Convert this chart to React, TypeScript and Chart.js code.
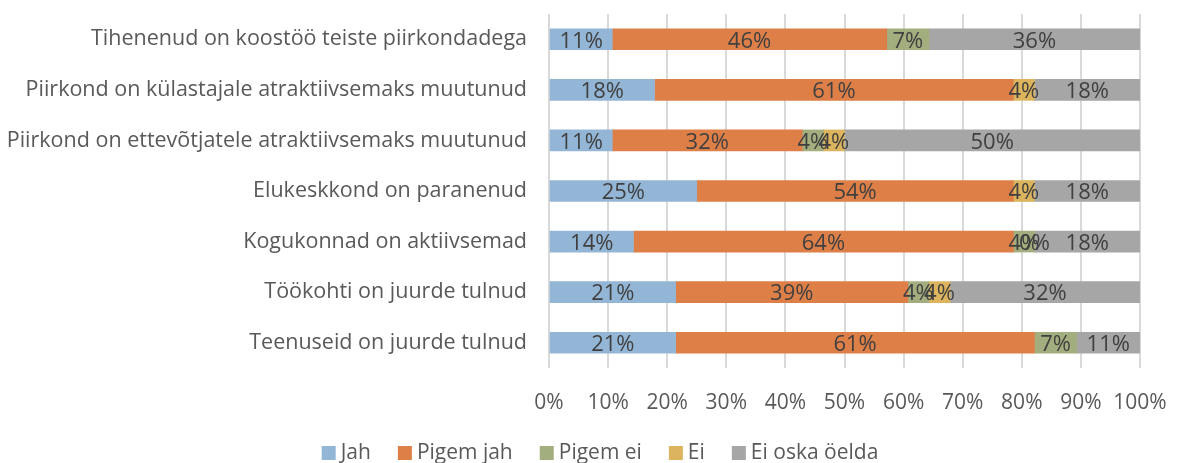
import React, { useEffect, useRef } from "react";
import { Chart, registerables } from "chart.js";

Chart.register(...registerables);

const categories = [
  "Tihenenud on koostöö teiste piirkondadega",
  "Piirkond on külastajale atraktiivsemaks muutunud",
  "Piirkond on ettevõtjatele atraktiivsemaks muutunud",
  "Elukeskkond on paranenud",
  "Kogukonnad on aktiivsemad",
  "Töökohti on juurde tulnud",
  "Teenuseid on juurde tulnud",
];
const seriesNames = ["Jah", "Pigem jah", "Pigem ei", "Ei", "Ei oska öelda"];
const jah = [10.71, 17.86, 10.71, 25, 14.29, 21.43, 21.43];
const pigemJah = [46.43, 60.71, 32.14, 53.57, 64.29, 39.29, 60.71];
const pigemEi = [7.14, null, 3.57, null, 3.57, 3.57, 7.14];
const ei = [null, 3.57, 3.57, 3.57, 0, 3.57, null];
const eiOska = [35.71, 17.86, 50, 17.86, 17.86, 32.14, 10.71];
const xTicks = [0, 10, 20, 30, 40, 50, 60, 70, 80, 90, 100];

const colors = ["#94B6D6", "#DF7F48", "#A3AE7E", "#DCB45E", "#A6A6A6"];
const FONT = "'Open Sans', sans-serif";

const labelPlugin = {
  id: "segLabels",
  afterDatasetsDraw(chart: any) {
    const ctx = chart.ctx;
    ctx.save();
    ctx.font = `22px ${FONT}`;
    ctx.fillStyle = "#404040";
    ctx.textAlign = "center";
    ctx.textBaseline = "middle";
    chart.data.datasets.forEach((ds: any, di: number) => {
      const meta = chart.getDatasetMeta(di);
      meta.data.forEach((el: any, i: number) => {
        const v = ds.data[i];
        if (v === null || v === undefined) return;
        const p = el.getProps(["x", "y", "base"], true);
        ctx.fillText(Math.round(v) + "%", (p.x + p.base) / 2, p.y + 2);
      });
    });
    ctx.restore();
  },
};

const legendPlugin = {
  id: "customLegend",
  afterDraw(chart: any) {
    const ctx = chart.ctx;
    ctx.save();
    ctx.font = `21px ${FONT}`;
    ctx.textBaseline = "middle";
    ctx.textAlign = "left";
    const box = 14;
    const gapBox = 5;
    const gapItem = 27;
    const widths = seriesNames.map((n) => ctx.measureText(n).width);
    const total =
      widths.reduce((a, b) => a + b, 0) + seriesNames.length * (box + gapBox) + gapItem * (seriesNames.length - 1);
    let x = 600 - total / 2;
    const y = 453;
    seriesNames.forEach((n, i) => {
      ctx.fillStyle = colors[i];
      ctx.fillRect(x, y - box / 2, box, box);
      x += box + gapBox;
      ctx.fillStyle = "#595959";
      ctx.fillText(n, x, y);
      x += widths[i] + gapItem;
    });
    ctx.restore();
  },
};

export default function App() {
  const ref = useRef<HTMLCanvasElement>(null);
  useEffect(() => {
    if (!ref.current) return;
    const seriesData = [jah, pigemJah, pigemEi, ei, eiOska];
    const chart = new Chart(ref.current, {
      type: "bar",
      data: {
        labels: categories,
        datasets: seriesNames.map((n, i) => ({
          label: n,
          data: seriesData[i] as any,
          backgroundColor: colors[i],
          borderWidth: 0,
          barThickness: 21,
        })),
      },
      options: {
        indexAxis: "y",
        animation: false,
        responsive: true,
        maintainAspectRatio: false,
        layout: { autoPadding: false, padding: { top: 14, right: 37, left: 0, bottom: 40 } },
        plugins: {
          legend: { display: false },
          tooltip: { enabled: false },
        },
        scales: {
          x: {
            stacked: true,
            min: 0,
            max: 100,
            afterBuildTicks(scale: any) {
              scale.ticks = xTicks.map((v) => ({ value: v }));
            },
            afterFit(scale: any) {
              scale.height = 55;
              scale.paddingLeft = 0;
              scale.paddingRight = 0;
            },
            ticks: {
              padding: 22,
              color: "#595959",
              font: { family: FONT, size: 21 },
              callback: (v: any) => v + "%",
              maxRotation: 0,
              autoSkip: false,
            },
            grid: { color: "#D9D9D9", lineWidth: 2, drawTicks: false },
            border: { display: false },
          },
          y: {
            stacked: true,
            afterFit(scale: any) {
              scale.width = 549;
              scale.paddingTop = 0;
              scale.paddingBottom = 0;
            },
            ticks: {
              padding: 22,
              color: "#595959",
              font: { family: FONT, size: 21.5 },
            },
            grid: { display: false, drawTicks: false },
            border: { display: false },
          },
        },
      },
      plugins: [labelPlugin, legendPlugin],
    });
    return () => chart.destroy();
  }, []);
  return (
    <div style={{ position: "fixed", left: 0, top: 0, width: 1177, height: 463, background: "#fff" }}>
      <canvas ref={ref} />
    </div>
  );
}
